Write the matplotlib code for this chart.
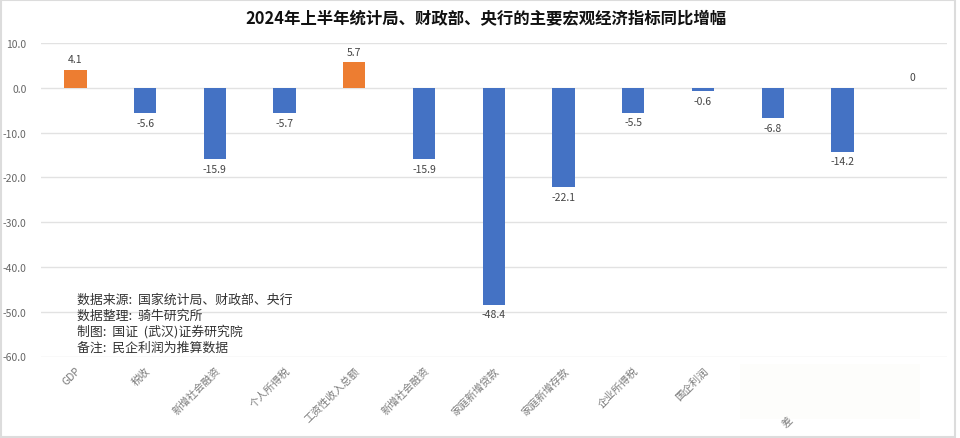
import matplotlib
matplotlib.use('Agg')
import matplotlib.pyplot as plt
from matplotlib.patches import Rectangle

plt.rcParams['font.family'] = ['Noto Sans CJK SC', 'DejaVu Sans']

# data
categories = ['GDP', '税收', '新增社会融资', '个人所得税', '工资性收入总额', '新增社会融资',
              '家庭新增贷款', '家庭新增存款', '企业所得税', '国企利润', '', '', '']
values = [4.1, -5.6, -15.9, -5.7, 5.7, -15.9, -48.4, -22.1, -5.5, -0.6, -6.8, -14.2, 0]
labels = ['4.1', '-5.6', '-15.9', '-5.7', '5.7', '-15.9', '-48.4', '-22.1', '-5.5', '-0.6', '-6.8', '-14.2', '0']
yticks = [10, 0, -10, -20, -30, -40, -50, -60]
notes = ['数据来源:  国家统计局、财政部、央行', '数据整理:  骑牛研究所', '制图:  国证  (武汉)证券研究院', '备注:  民企利润为推算数据']

W, H = 960, 439
fig = plt.figure(figsize=(W / 100, H / 100), dpi=100)
# outer chart frame, stops short of the right edge
fig.patches.append(Rectangle((1 / W, 1 / H), 954 / W, 437 / H, transform=fig.transFigure, fill=False, ec='#dcdcdc', lw=1.5))
# faint patch where the last labels were whited out
fig.patches.append(Rectangle((740 / W, 1 - 420 / H), 180 / W, 55 / H, transform=fig.transFigure, fc='#fdfdfb', ec='none'))

ax = fig.add_axes([40.5 / W, 1 - 357.5 / H, 906.5 / W, (357.5 - 44.2) / H])
ax.patch.set_alpha(0)
x = range(len(values))
colors = ['#ed7d31' if v > 0 else '#4472c4' for v in values]
ax.bar(x, values, width=0.32, color=colors, zorder=3)

ax.set_xlim(-0.5, 12.5)
ax.set_ylim(-60, 10)
ax.set_yticks(yticks)
ax.set_yticklabels(['%.1f' % t for t in yticks], fontsize=7.5, color='#666666')
ax.grid(axis='y', color='#e2e2e2', lw=1, zorder=0)
ax.tick_params(length=0, pad=10)
ax.tick_params(axis='x', pad=6)
for s in ax.spines.values():
    s.set_visible(False)

ax.set_xticks(list(x))
ax.set_xticklabels(categories, rotation=45, ha='right', rotation_mode='anchor', fontsize=7.5, color='#7a7a7a')

for i, (v, lab) in enumerate(zip(values, labels)):
    if v >= 0:
        ax.annotate(lab, (i, v), xytext=(0, 4), textcoords='offset points', ha='center', va='bottom',
                    fontsize=7.5, color='#444444')
    else:
        ax.annotate(lab, (i, v), xytext=(0, -3.5), textcoords='offset points', ha='center', va='top',
                    fontsize=7.5, color='#444444')

# leftover bit of a label under the whited-out area
fig.text(788 / W, 1 - 423 / H, '差', rotation=45, ha='center', va='center', fontsize=7.5, color='#7a7a7a')

fig.text(486 / W, 1 - 19 / H, '2024年上半年统计局、财政部、央行的主要宏观经济指标同比增幅',
         ha='center', va='center', fontsize=11.8, fontweight='bold', color='#111111')

for i, line in enumerate(notes):
    fig.text(77 / W, 1 - (300 + i * 16) / H, line, ha='left', va='center', fontsize=9.3, color='#333333')

fig.savefig('out.png', dpi=100)
